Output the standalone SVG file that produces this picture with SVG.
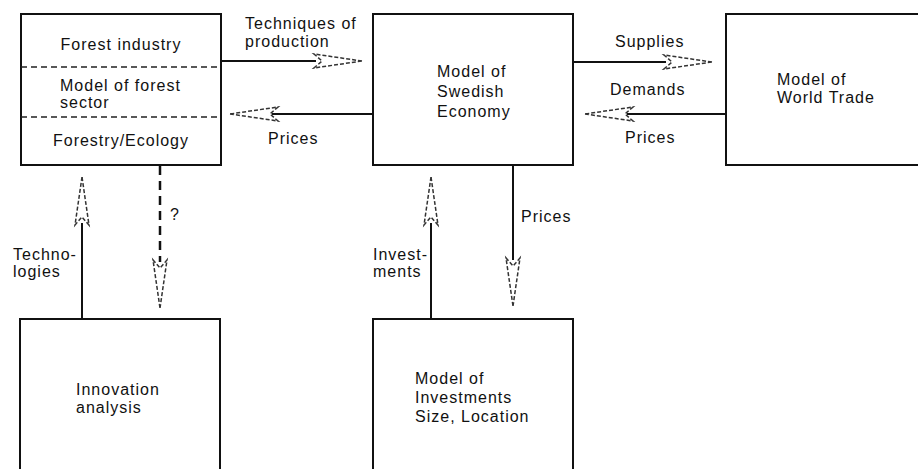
<svg xmlns="http://www.w3.org/2000/svg" xmlns:xlink="http://www.w3.org/1999/xlink" width="918" height="469" viewBox="0 0 918 469">
<style>
.box{fill:#fff;stroke:#111;stroke-width:2}
.div{stroke:#222;stroke-width:1.5;stroke-dasharray:6,4}
.shaft{stroke:#111;stroke-width:2;fill:none}
.dshaft{stroke:#111;stroke-width:2.5;fill:none;stroke-dasharray:9,6}
.t{font-family:"Liberation Sans",Arial,sans-serif;font-size:16px;letter-spacing:1px;fill:#111}
.ah{fill:#fff;stroke:#333;stroke-width:1.5;stroke-dasharray:4,2}
</style>
<defs>
<path id="ah" class="ah" d="M0,0 L-48,-7 L-40,0 L-48,7 Z"/>
</defs>
<rect width="918" height="469" fill="#fff"/>
<g id="connectors">
<line class="shaft" x1="221" y1="61" x2="316" y2="61"/>
<use xlink:href="#ah" transform="translate(362,61)"/>
<line class="shaft" x1="373" y1="114" x2="272" y2="114"/>
<use xlink:href="#ah" transform="translate(230,114) rotate(180)"/>
<line class="shaft" x1="573" y1="62" x2="666" y2="62"/>
<use xlink:href="#ah" transform="translate(712,62)"/>
<line class="shaft" x1="726" y1="114" x2="627" y2="114"/>
<use xlink:href="#ah" transform="translate(585,114) rotate(180)"/>
<line class="shaft" x1="82" y1="319" x2="82" y2="223"/>
<use xlink:href="#ah" transform="translate(82,177) rotate(-90)"/>
<line class="dshaft" x1="160" y1="166" x2="160" y2="262"/>
<use xlink:href="#ah" transform="translate(160,308) rotate(90)"/>
<line class="shaft" x1="431" y1="319" x2="431" y2="223"/>
<use xlink:href="#ah" transform="translate(431,177) rotate(-90)"/>
<line class="shaft" x1="513" y1="165" x2="513" y2="260"/>
<use xlink:href="#ah" transform="translate(513,306) rotate(90)"/>
<text class="t" x="245" y="29">Techniques of</text>
<text class="t" x="245" y="47">production</text>
<text class="t" x="268" y="144">Prices</text>
<text class="t" x="615" y="47">Supplies</text>
<text class="t" x="610" y="95">Demands</text>
<text class="t" x="625" y="143">Prices</text>
<text class="t" x="13" y="260">Techno-</text>
<text class="t" x="13" y="277">logies</text>
<text class="t" x="170" y="220">?</text>
<text class="t" x="373" y="260">Invest-</text>
<text class="t" x="373" y="277">ments</text>
<text class="t" x="521" y="222">Prices</text>
</g>
<g id="forest">
<rect class="box" x="21" y="14" width="200" height="151"/>
<line class="div" x1="21" y1="67" x2="221" y2="67"/>
<line class="div" x1="21" y1="117" x2="221" y2="117"/>
<text class="t" x="121" y="50" text-anchor="middle">Forest industry</text>
<text class="t" x="60" y="91">Model of forest</text>
<text class="t" x="60" y="108">sector</text>
<text class="t" x="121" y="146" text-anchor="middle">Forestry/Ecology</text>
</g>
<g id="swedish">
<rect class="box" x="373" y="14" width="200" height="151"/>
<text class="t" x="437" y="77">Model of</text>
<text class="t" x="437" y="97">Swedish</text>
<text class="t" x="437" y="117">Economy</text>
</g>
<g id="world">
<rect class="box" x="726" y="14" width="210" height="151"/>
<text class="t" x="777" y="85">Model of</text>
<text class="t" x="777" y="103">World Trade</text>
</g>
<g id="innovation">
<rect class="box" x="20" y="319" width="200" height="160"/>
<text class="t" x="76" y="395">Innovation</text>
<text class="t" x="76" y="413">analysis</text>
</g>
<g id="investments">
<rect class="box" x="373" y="319" width="200" height="160"/>
<text class="t" x="415" y="384">Model of</text>
<text class="t" x="415" y="403">Investments</text>
<text class="t" x="415" y="422">Size, Location</text>
</g>
</svg>
